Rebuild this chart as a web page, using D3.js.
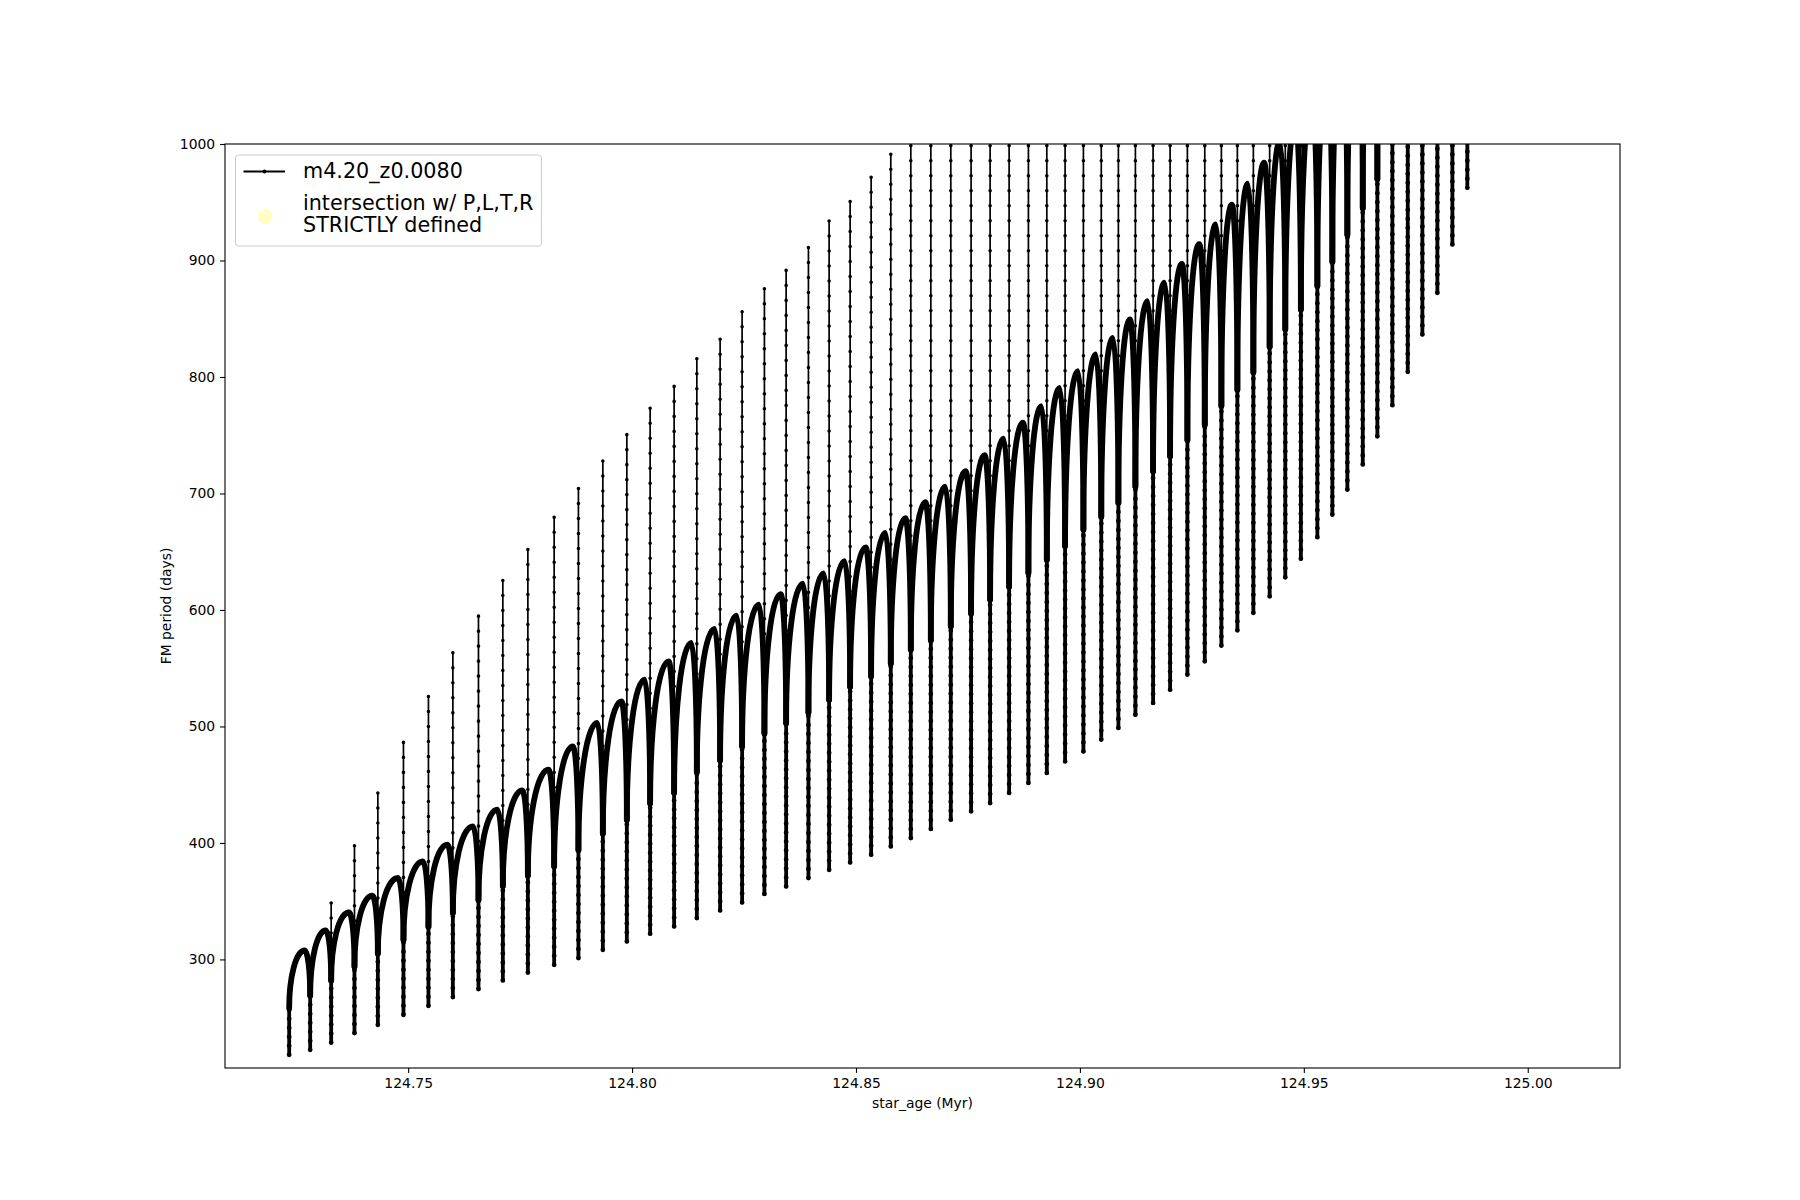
<!DOCTYPE html>
<html>
<head>
<meta charset="utf-8">
<title>FM period vs star age</title>
<script src="https://cdn.jsdelivr.net/npm/d3@7"></script>
<style>
  body { margin: 0; background: #fff; }
  svg text { font-family: "DejaVu Sans", sans-serif; fill: #000; }
</style>
</head>
<body>
<svg id="chart" width="1800" height="1200"></svg>
<script>
// ages of the thermal pulses (Myr)
var pulseAge = [
  124.72343, 124.72812, 124.73281, 124.73801, 124.74323, 124.74895, 124.75453, 124.75998, 124.76570, 124.77114,
  124.77673, 124.78260, 124.78802, 124.79347, 124.79883, 124.80403, 124.80939, 124.81446, 124.81966, 124.82457,
  124.82955, 124.83440, 124.83938, 124.84400, 124.84869, 124.85338, 124.85777, 124.86224, 124.86671, 124.87117,
  124.87570, 124.87995, 124.88419, 124.88850, 124.89261, 124.89669, 124.90078, 124.90477, 124.90859, 124.91239,
  124.91634, 124.92014, 124.92400, 124.92788, 124.93159, 124.93516, 124.93873, 124.94237, 124.94586, 124.94934,
  124.95302, 124.95637, 124.95972, 124.96316, 124.96642, 124.96977, 124.97321, 124.97647, 124.97982, 124.98317,
  124.98651
];
// lowest period reached at each pulse (days)
var pulseMin = [
  218.1, 222.4, 228.6, 236.8, 243.9, 252.5, 260.2, 267.7, 274.6, 282.0,
  288.8, 295.4, 301.2, 308.3, 315.5, 322.1, 328.3, 335.5, 342.1, 348.9,
  356.2, 362.7, 369.9, 377.0, 383.3, 389.9, 397.0, 404.2, 412.0, 420.0,
  427.1, 434.3, 442.9, 451.5, 460.1, 470.0, 478.6, 488.7, 498.7, 510.1,
  520.2, 531.6, 544.5, 555.9, 569.4, 582.5, 597.5, 611.7, 628.0, 644.0,
  662.5, 681.9, 703.4, 724.9, 749.1, 775.8, 804.4, 836.5, 872.3, 913.8,
  962.5
];
// highest period of the spike at each pulse (1050 = runs off the top)
var pulseMax = [
  273.9, 300.0, 348.4, 397.6, 442.9, 486.3, 525.7, 563.2, 594.7, 625.3,
  651.9, 679.5, 704.2, 727.8, 750.5, 773.2, 791.9, 815.6, 832.4, 856.0,
  875.7, 891.5, 911.2, 933.9, 950.7, 971.4, 991.1, 1050, 1050, 1050,
  1050, 1050, 1050, 1050, 1050, 1050, 1050, 1050, 1050, 1050,
  1050, 1050, 1050, 1050, 1050, 1050, 1050, 1050, 1050, 1050,
  1050, 1050, 1050, 1050, 1050, 1050, 1050, 1050, 1050, 1050,
  1050
];
// level where the dense part ends / the interpulse arc starts
var arcBase = [
  258, 269, 282, 294, 305, 317, 328, 340, 351, 363,
  372, 380, 394, 408, 420, 434, 443, 461, 471, 483,
  494, 503, 512, 523, 534, 543, 554, 566, 574, 586,
  597, 609, 620, 632, 643, 655, 669, 680, 692, 706,
  719, 732, 746, 759, 775, 789, 804, 826, 841, 858,
  878, 899, 922, 945, 970, 1005, 1040, 1075, 1110, 1145,
  1180
];
// top of the interpulse arc that follows each pulse
var arcPeak = [
  307.7, 324.9, 340.3, 354.7, 369.9, 384.2, 398.5, 414.2, 428.6, 445.1,
  462.9, 482.9, 503.0, 521.6, 540.2, 555.9, 571.7, 583.7, 595.2, 604.6,
  613.5, 622.5, 631.4, 641.8, 653.8, 666.2, 678.8, 692.5, 705.9, 719.1,
  732.9, 747.0, 760.9, 774.9, 790.7, 805.0, 819.3, 833.6, 849.4, 865.1,
  881, 897, 914, 931, 948, 966, 984, 1002, 1020, 1040,
  1060, 1085, 1110, 1140, 1170, 1200, 1230, 1265, 1300, 1340
];

var xTicks = [124.75, 124.80, 124.85, 124.90, 124.95, 125.00];
var yTicks = [300, 400, 500, 600, 700, 800, 900, 1000];
var seriesName = "m4.20_z0.0080";
var pointsName = ["intersection w/ P,L,T,R", "STRICTLY defined"];

var svg = d3.select("#chart");
var plotL = 225, plotR = 1620, plotT = 144, plotB = 1068;

svg.append("rect").attr("width", 1800).attr("height", 1200).attr("fill", "#fff");

var x = d3.scaleLinear().domain([124.7091, 125.0206]).range([plotL, plotR]);
var y = d3.scaleLinear().domain([206.8, 1000]).range([plotB, plotT]);

svg.append("clipPath").attr("id", "plotclip")
  .append("rect").attr("x", plotL).attr("y", plotT)
  .attr("width", plotR - plotL).attr("height", plotB - plotT);

var plot = svg.append("g").attr("clip-path", "url(#plotclip)");

// interpulse arcs: rise from the pulse, peak just before the next one, fall into it
var peakLead = 5.5;
var arcs = d3.range(arcPeak.length).map(function(i) {
  var x0 = x(pulseAge[i]), y0 = y(arcBase[i]);
  var x1 = x(pulseAge[i + 1]), y1 = y(arcBase[i + 1]);
  var xp = x1 - peakLead, yp = y(arcPeak[i]);
  return "M" + x0 + "," + y0 +
    "A" + (xp - x0) + "," + Math.max(0.01, y0 - yp) + " 0 0 1 " + xp + "," + yp +
    "A" + (x1 - xp) + "," + Math.max(0.01, y1 - yp) + " 0 0 1 " + x1 + "," + y1;
});

plot.append("g").selectAll("path")
  .data(arcs)
  .enter().append("path")
    .attr("d", function(d) { return d; })
    .attr("fill", "none")
    .attr("stroke", "#000")
    .attr("stroke-width", 5.8)
    .attr("stroke-linecap", "round");

// dense lower part of each pulse
var lower = plot.append("g");
lower.selectAll("line.solid")
  .data(pulseAge)
  .enter().append("line")
    .attr("class", "solid")
    .attr("x1", function(d) { return x(d); })
    .attr("x2", function(d) { return x(d); })
    .attr("y1", function(d, i) { return y(pulseMin[i]); })
    .attr("y2", function(d, i) { return y(arcBase[i]); })
    .attr("stroke", "#000")
    .attr("stroke-width", 3.8)
    .attr("stroke-linecap", "round");
lower.selectAll("line.dots")
  .data(pulseAge)
  .enter().append("line")
    .attr("class", "dots")
    .attr("x1", function(d) { return x(d); })
    .attr("x2", function(d) { return x(d); })
    .attr("y1", function(d, i) { return y(pulseMin[i]); })
    .attr("y2", function(d, i) { return y(arcBase[i]); })
    .attr("stroke", "#000")
    .attr("stroke-width", 4.8)
    .attr("stroke-linecap", "round")
    .attr("stroke-dasharray", "0,9");

// sparse upper spike of each pulse
var upper = plot.append("g");
upper.selectAll("line.thin")
  .data(pulseAge)
  .enter().append("line")
    .attr("class", "thin")
    .attr("x1", function(d) { return x(d); })
    .attr("x2", function(d) { return x(d); })
    .attr("y1", function(d, i) { return y(arcBase[i]); })
    .attr("y2", function(d, i) { return y(pulseMax[i]); })
    .attr("stroke", "#000")
    .attr("stroke-width", 1.7);
upper.selectAll("line.dots")
  .data(pulseAge)
  .enter().append("line")
    .attr("class", "dots")
    .attr("x1", function(d) { return x(d); })
    .attr("x2", function(d) { return x(d); })
    .attr("y1", function(d, i) { return y(pulseMax[i]); })
    .attr("y2", function(d, i) { return y(arcBase[i]); })
    .attr("stroke", "#000")
    .attr("stroke-width", 3.6)
    .attr("stroke-linecap", "round")
    .attr("stroke-dasharray", "0,15");

// axes
var xAxis = svg.append("g")
  .attr("transform", "translate(0," + plotB + ")")
  .call(d3.axisBottom(x).tickValues(xTicks).tickFormat(d3.format(".2f"))
    .tickSize(4.9).tickPadding(4.9));
var yAxis = svg.append("g")
  .attr("transform", "translate(" + plotL + ",0)")
  .call(d3.axisLeft(y).tickValues(yTicks).tickFormat(d3.format("d"))
    .tickSize(4.9).tickPadding(4.9));

[xAxis, yAxis].forEach(function(g) {
  g.select(".domain").remove();
  g.attr("font-family", "DejaVu Sans, sans-serif").attr("font-size", 13.9);
  g.selectAll(".tick line").attr("stroke", "#000").attr("stroke-width", 1.1);
  g.selectAll(".tick text").attr("fill", "#000");
});

svg.append("rect")
  .attr("x", plotL).attr("y", plotT)
  .attr("width", plotR - plotL).attr("height", plotB - plotT)
  .attr("fill", "none").attr("stroke", "#000").attr("stroke-width", 1.1);

svg.append("text")
  .attr("x", (plotL + plotR) / 2).attr("y", 1108)
  .attr("text-anchor", "middle").attr("font-size", 13.9)
  .text("star_age (Myr)");

svg.append("text")
  .attr("transform", "translate(171," + (plotT + plotB) / 2 + ") rotate(-90)")
  .attr("text-anchor", "middle").attr("font-size", 13.9)
  .text("FM period (days)");

// legend
var legend = svg.append("g");
legend.append("rect")
  .attr("x", 235.5).attr("y", 155).attr("width", 306).attr("height", 91)
  .attr("rx", 3).attr("fill", "#fff").attr("fill-opacity", 0.8)
  .attr("stroke", "#cccccc").attr("stroke-width", 1);
legend.append("line")
  .attr("x1", 243.5).attr("x2", 285).attr("y1", 171.5).attr("y2", 171.5)
  .attr("stroke", "#000").attr("stroke-width", 2);
legend.append("circle")
  .attr("cx", 264.5).attr("cy", 171.5).attr("r", 2).attr("fill", "#000");
legend.append("circle")
  .attr("cx", 265).attr("cy", 216.5).attr("r", 7.5)
  .attr("fill", "#ffff88").attr("fill-opacity", 0.5);
legend.append("text")
  .attr("x", 303).attr("y", 178).attr("font-size", 20.7)
  .text(seriesName);
legend.selectAll("text.pts")
  .data(pointsName)
  .enter().append("text")
    .attr("class", "pts")
    .attr("x", 303)
    .attr("y", function(d, i) { return 209.5 + i * 22.5; })
    .attr("font-size", 20.7)
    .text(function(d) { return d; });
</script>
</body>
</html>
